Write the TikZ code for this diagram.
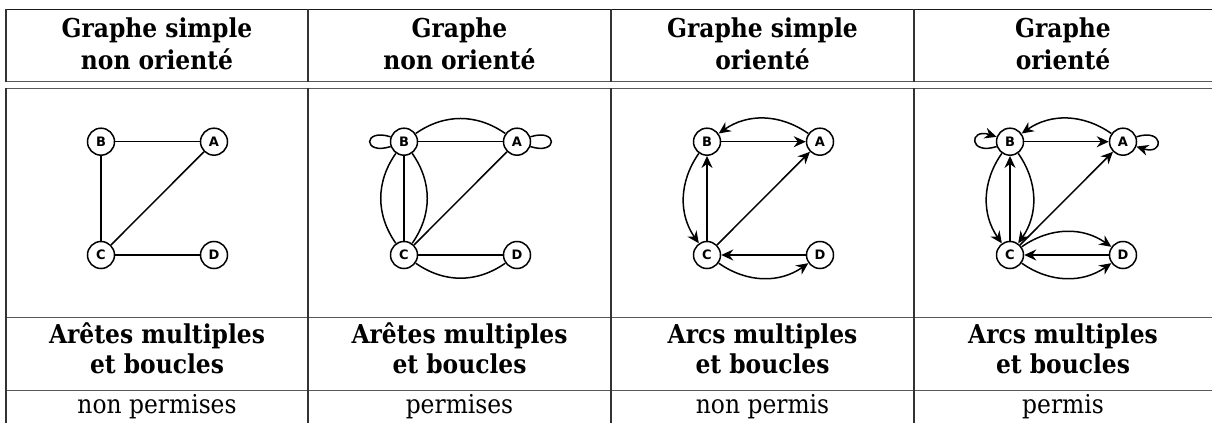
\documentclass[tikz,border=0pt]{standalone}
\usepackage{fontspec}
\newfontfamily\nodefont{DejaVu Sans}
\newfontfamily\utop{DejaVu Serif Condensed}
\usetikzlibrary{arrows.meta}
\begin{document}
\begin{tikzpicture}[x=1pt,y=1pt,
  vtx/.style={circle,draw,line width=1.5pt,minimum size=27pt,inner sep=0pt,font=\nodefont\bfseries\fontsize{13}{13}\selectfont},
  edge/.style={line width=1.5pt},
  arr/.style={edge,-{Stealth[length=12pt,width=11pt,inset=4pt]}},
  tline/.style={line width=1.4pt,black!65},
  hd/.style={font=\utop\bfseries\fontsize{26}{30}\selectfont,anchor=base},
  tx/.style={font=\utop\fontsize{26}{30}\selectfont,anchor=base}]
\useasboundingbox (0,0) rectangle (1212,423);
% table rules
\draw[tline,black!90] (6,413.5) -- (1212,413.5);
\draw[tline] (6,341.3) -- (1212,341.3);
\draw[tline] (6,334.7) -- (1212,334.7);
\draw[tline] (6,105.3) -- (1212,105.3);
\draw[tline] (6,32.3) -- (1212,32.3);
\foreach \x in {6,308,611,914} {
  \draw[tline,black!80] (\x,413.5) -- (\x,341.3);
  \draw[tline,black!80] (\x,334.7) -- (\x,0);
}
% headers
\node[hd] (h1a) at (157,385.3) {Graphe simple};
\node[hd] (h1b) at (157,353) {non orienté};
\node[hd] (h2a) at (459.5,385.3) {Graphe};
\node[hd] (h2b) at (459.5,353) {non orienté};
\node[hd] (h3a) at (762.5,385.3) {Graphe simple};
\node[hd] (h3b) at (762.5,353) {orienté};
\node[hd] (h4a) at (1063,385.3) {Graphe};
\node[hd] (h4b) at (1063,353) {orienté};
% footers
\node[hd] (f1a) at (157,80) {Arêtes multiples};
\node[hd] (f1b) at (157,49) {et boucles};
\node[tx] (f1c) at (157,10) {non permises};
\node[hd] (f2a) at (459.5,80) {Arêtes multiples};
\node[hd] (f2b) at (459.5,49) {et boucles};
\node[tx] (f2c) at (459.5,10) {permises};
\node[hd] (f3a) at (762.5,80) {Arcs multiples};
\node[hd] (f3b) at (762.5,49) {et boucles};
\node[tx] (f3c) at (762.5,10) {non permis};
\node[hd] (f4a) at (1063,80) {Arcs multiples};
\node[hd] (f4b) at (1063,49) {et boucles};
\node[tx] (f4c) at (1063,10) {permis};
% graph 1
\node[vtx] (b1) at (101,281.3) {B};
\node[vtx] (a1) at (214,281.3) {A};
\node[vtx] (c1) at (101,168) {C};
\node[vtx] (d1) at (214,168) {D};
\draw[edge] (b1) -- (a1);
\draw[edge] (b1) -- (c1);
\draw[edge] (c1) -- (a1);
\draw[edge] (c1) -- (d1);
% graph 2
\node[vtx] (b2) at (404,281.3) {B};
\node[vtx] (a2) at (517,281.3) {A};
\node[vtx] (c2) at (404,168) {C};
\node[vtx] (d2) at (517,168) {D};
\draw[edge] (b2) -- (a2);
\draw[edge] (b2) to[bend left=35] (a2);
\draw[edge] (b2) -- (c2);
\draw[edge] (b2) to[bend right=35] (c2);
\draw[edge] (b2) to[bend left=35] (c2);
\draw[edge] (c2) -- (a2);
\draw[edge] (c2) -- (d2);
\draw[edge] (c2) to[bend right=35] (d2);
\draw[edge] (b2.160) .. controls +(-28,9) and +(-28,-9) .. (b2.200);
\draw[edge] (a2.20) .. controls +(28,9) and +(28,-9) .. (a2.340);
% graph 3
\node[vtx] (b3) at (707,281.3) {B};
\node[vtx] (a3) at (820,281.3) {A};
\node[vtx] (c3) at (707,168) {C};
\node[vtx] (d3) at (820,168) {D};
\draw[arr] (b3) -- (a3);
\draw[arr] (a3) to[bend right=35] (b3);
\draw[arr] (c3) -- (b3);
\draw[arr] (b3) to[bend right=35] (c3);
\draw[arr] (c3) -- (a3);
\draw[arr] (d3) -- (c3);
\draw[arr] (c3) to[bend right=35] (d3);
% graph 4
\node[vtx] (b4) at (1010,281.3) {B};
\node[vtx] (a4) at (1123,281.3) {A};
\node[vtx] (c4) at (1010,168) {C};
\node[vtx] (d4) at (1123,168) {D};
\draw[arr] (b4) -- (a4);
\draw[arr] (a4) to[bend right=35] (b4);
\draw[arr] (c4) -- (b4);
\draw[arr] (b4) to[bend right=35] (c4);
\draw[arr] (b4) to[bend left=35] (c4);
\draw[arr] (c4) -- (a4);
\draw[arr] (d4) -- (c4);
\draw[arr] (c4) to[bend right=35] (d4);
\draw[arr] (c4) to[bend left=35] (d4);
\draw[arr] (b4.200) .. controls +(-28,-9) and +(-28,9) .. (b4.160);
\draw[arr] (a4.20) .. controls +(28,9) and +(28,-9) .. (a4.340);
\end{tikzpicture}
\end{document}
